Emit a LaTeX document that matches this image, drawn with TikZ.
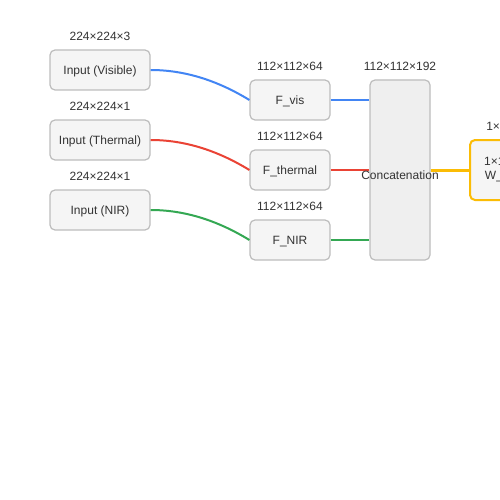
\documentclass[tikz,border=0pt]{standalone}
\usepackage{fontspec}
\setmainfont{Liberation Sans}
\usepackage{tikz}

\definecolor{gblue}{HTML}{4285F4}
\definecolor{gred}{HTML}{EA4335}
\definecolor{ggreen}{HTML}{34A853}
\definecolor{gyellow}{HTML}{FBBC05}
\definecolor{boxfill}{HTML}{F5F5F5}
\definecolor{catfill}{HTML}{EFEFEF}
\definecolor{boxline}{HTML}{BDBDBD}
\definecolor{txtgray}{HTML}{333333}

\tikzset{
  box/.style={draw=boxline, fill=boxfill, line width=1.2pt, rounded corners=5pt, inner sep=0pt, text=txtgray, font=\fontsize{12}{14}\selectfont},
  inbox/.style={box, minimum width=100pt, minimum height=40pt, text height=9pt, text depth=0.5pt},
  featbox/.style={box, minimum width=80pt, minimum height=40pt, text height=9pt, text depth=0.5pt},
  dimlbl/.style={inner sep=0pt, text=txtgray, font=\fontsize{12}{14}\selectfont},
  link/.style={line width=2pt},
}

\begin{document}
\begin{tikzpicture}[x=1pt,y=-1pt]
\useasboundingbox (0,0) rectangle (500,500);
\clip (0,0) rectangle (500,500);
\fill[white] (0,0) rectangle (500,500);

% inputs
\node[inbox] (invis) at (100,70) {Input (Visible)};
\node[inbox] (inthermal) at (100,140) {Input (Thermal)};
\node[inbox] (innir) at (100,210) {Input (NIR)};
\node[dimlbl] (dimvis) at (100,36) {224×224×3};
\node[dimlbl] (dimthermal) at (100,106) {224×224×1};
\node[dimlbl] (dimnir) at (100,176) {224×224×1};

% features
\node[featbox] (fvis) at (290,100) {F\_vis};
\node[featbox] (fthermal) at (290,170) {F\_thermal};
\node[featbox] (fnir) at (290,240) {F\_NIR};
\node[dimlbl] (dimfvis) at (290,66) {112×112×64};
\node[dimlbl] (dimfthermal) at (290,136) {112×112×64};
\node[dimlbl] (dimfnir) at (290,206) {112×112×64};

% concatenation
\node[box, fill=catfill, minimum width=60pt, minimum height=180pt] (concat) at (400,170) {};
\node[dimlbl] (dimconcat) at (400,66) {112×112×192};

% fusion
\node[box, draw=gyellow, line width=2pt, minimum width=80pt, minimum height=60pt, align=center] (fuse) at (510,170) {1×1 Conv\\W\_fusion};
\node[dimlbl] (dimfuse) at (510,126) {1×1×192};

\draw[link,gblue] (invis.east) .. controls +(33.3,0) and (216.7,80) .. (fvis.west);
\draw[link,gred] (inthermal.east) .. controls +(33.3,0) and (216.7,150) .. (fthermal.west);
\draw[link,ggreen] (innir.east) .. controls +(33.3,0) and (216.7,220) .. (fnir.west);

\draw[link,gblue] (fvis.east) -- (fvis.east -| concat.west);
\draw[link,gred] (fthermal.east) -- (fthermal.east -| concat.west);
\draw[link,ggreen] (fnir.east) -- (fnir.east -| concat.west);
\draw[gyellow,line width=3pt] (concat.east) -- (fuse.west);

\node[dimlbl] (catlbl) at (400,175.5) {Concatenation};

\end{tikzpicture}
\end{document}
